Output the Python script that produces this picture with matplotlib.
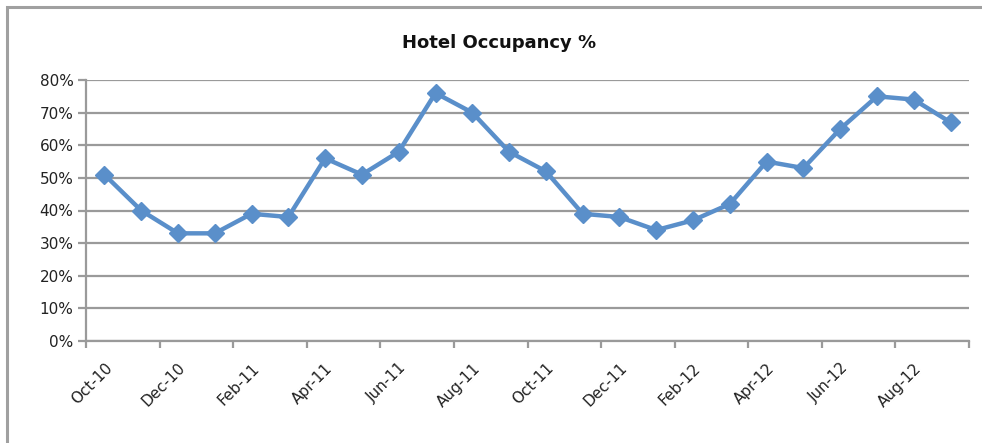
import matplotlib
matplotlib.use("Agg")
import matplotlib.pyplot as plt
from matplotlib.patches import Rectangle
from matplotlib.ticker import FixedLocator, PercentFormatter

months = ["Oct-10", "Nov-10", "Dec-10", "Jan-11", "Feb-11", "Mar-11", "Apr-11", "May-11",
          "Jun-11", "Jul-11", "Aug-11", "Sep-11", "Oct-11", "Nov-11", "Dec-11", "Jan-12",
          "Feb-12", "Mar-12", "Apr-12", "May-12", "Jun-12", "Jul-12", "Aug-12", "Sep-12"]
occupancy = [51, 40, 33, 33, 39, 38, 56, 51, 58, 76, 70, 58,
             52, 39, 38, 34, 37, 42, 55, 53, 65, 75, 74, 67]
y_ticks = [0, 10, 20, 30, 40, 50, 60, 70, 80]

plt.rcParams["font.family"] = ["DejaVu Sans"]

W, H = 982, 443
fig = plt.figure(figsize=(W / 100, H / 100), dpi=100)

# chart-area frame (left and top edges visible)
fig.patches.append(Rectangle((7 / W, -0.1), 1.2, 1 - 7 / H + 0.1, transform=fig.transFigure,
                             fill=False, edgecolor="#a0a0a0", linewidth=2.2))

ax = fig.add_axes([86 / W, 1 - 341 / H, (969 - 86) / W, (341 - 80) / H])

x = list(range(len(months)))
ax.plot(x, occupancy, color="#5a8fca", linewidth=3.2, marker="D", markersize=9,
        markerfacecolor="#5a8fca", markeredgecolor="#5a8fca", zorder=3, clip_on=False)

ax.set_ylim(0, 80)
ax.set_xlim(-0.5, len(months) - 0.5)
ax.set_yticks(y_ticks)
ax.yaxis.set_major_formatter(PercentFormatter(decimals=0))
ax.grid(axis="y", color="#9a9a9a", linewidth=1.6)
ax.set_axisbelow(True)

# category boundary ticks every two months, labels at the category centres
bounds = [i - 0.5 for i in range(0, len(months) + 1, 2)]
ax.xaxis.set_major_locator(FixedLocator(bounds))
ax.xaxis.set_ticklabels([])
ax.xaxis.set_minor_locator(FixedLocator(x[::2]))
ax.xaxis.set_ticklabels(months[::2], minor=True)
ax.tick_params(axis="x", which="major", length=5, width=1.6, color="#9a9a9a", direction="out")
ax.tick_params(axis="x", which="minor", length=0, pad=14, labelsize=11, labelcolor="#222222")
for lbl in ax.get_xticklabels(minor=True):
    lbl.set_rotation(45)
    lbl.set_ha("right")
    lbl.set_rotation_mode("anchor")
ax.tick_params(axis="y", length=6, width=1.6, color="#9a9a9a", labelsize=11,
               labelcolor="#222222", pad=3)

for side in ["top", "right"]:
    ax.spines[side].set_visible(False)
for side in ["left", "bottom"]:
    ax.spines[side].set_color("#9a9a9a")
    ax.spines[side].set_linewidth(1.6)

fig.text((392 + 607) / 2 / W, 1 - 43 / H, "Hotel Occupancy %", ha="center", va="center",
         fontsize=13, fontweight="bold", color="#111111")

fig.savefig("out.png", dpi=100)
